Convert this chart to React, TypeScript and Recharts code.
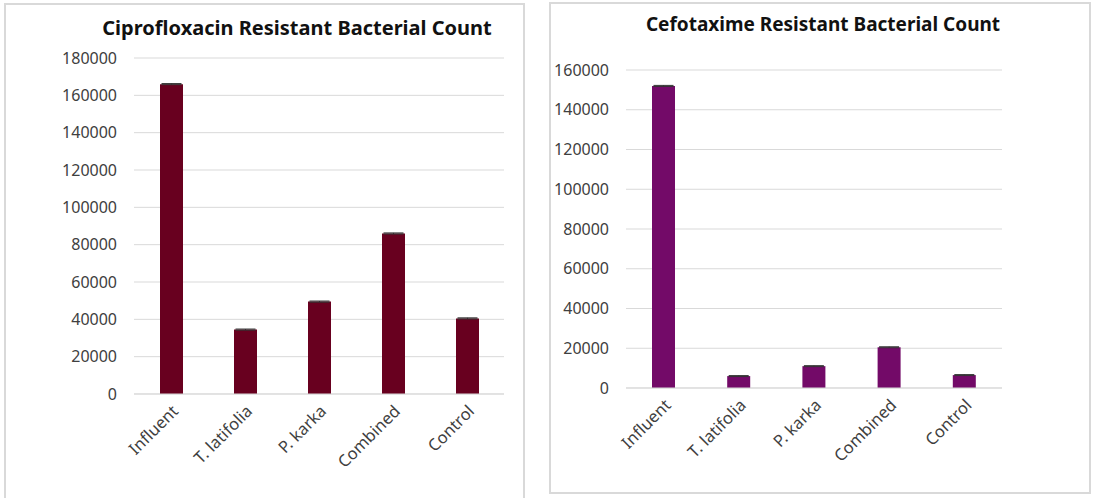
import { BarChart, Bar, XAxis, YAxis, CartesianGrid, ErrorBar } from 'recharts';

const categories = ['Influent', 'T. latifolia', 'P. karka', 'Combined', 'Control'];

const ciproValues = [166000, 34500, 49500, 86000, 40500];
const ciproErrors = [300, 300, 300, 300, 300];
const ciproTicks = [0, 20000, 40000, 60000, 80000, 100000, 120000, 140000, 160000, 180000];

const cefoValues = [152000, 6000, 11000, 20500, 6500];
const cefoErrors = [250, 250, 250, 250, 250];
const cefoTicks = [0, 20000, 40000, 60000, 80000, 100000, 120000, 140000, 160000];

const FONT = '"Noto Sans", sans-serif';

const toRows = (values: number[], errors: number[]) =>
  categories.map((name, i) => ({ name, value: values[i], err: errors[i] }));

type PanelParam = {
  title: string;
  titleSize: number;
  color: string;
  values: number[];
  errors: number[];
  ticks: number[];
  width: number;
  height: number;
  margin: { top: number; right: number; left: number; bottom: number };
  yWidth: number;
  titleX: number;
  titleY: number;
};

const renderPanel = (p: PanelParam) => (
  <div style={{ position: 'relative', width: p.width, height: p.height }}>
    <div
      style={{
        position: 'absolute',
        left: p.titleX - 250,
        width: 500,
        top: p.titleY,
        textAlign: 'center',
        fontFamily: FONT,
        fontWeight: 700,
        fontSize: p.titleSize,
        color: '#111',
        lineHeight: '24px',
      }}
    >
      {p.title}
    </div>
    <BarChart
      width={p.width}
      height={p.height}
      data={toRows(p.values, p.errors)}
      margin={p.margin}
      barCategoryGap={0}
    >
      <CartesianGrid vertical={false} stroke="#D9D9D9" strokeWidth={1} />
      <XAxis
        dataKey="name"
        axisLine={{ stroke: '#D9D9D9' }}
        tickLine={false}
        interval={0}
        height={100}
        tickSize={0}
        tickMargin={10}
        angle={-45}
        textAnchor="end"
        tick={{ fill: '#404040', fontSize: 16.5, fontFamily: FONT }}
      />
      <YAxis
        domain={[0, p.ticks[p.ticks.length - 1]]}
        ticks={p.ticks}
        axisLine={false}
        tickLine={false}
        tickSize={0}
        tickMargin={17}
        width={p.yWidth}
        interval={0}
        tick={{ fill: '#404040', fontSize: 16, fontFamily: FONT }}
      />
      <Bar dataKey="value" fill={p.color} barSize={23} isAnimationActive={false}>
        <ErrorBar dataKey="err" width={10} stroke="#333" strokeWidth={1} />
      </Bar>
    </BarChart>
  </div>
);

const App = () => (
  <div
    style={{
      position: 'fixed',
      left: 0,
      top: 0,
      width: 1094,
      height: 498,
      background: '#fff',
      overflow: 'hidden',
    }}
  >
    <div
      style={{
        position: 'absolute',
        left: 4,
        top: 3,
        width: 517,
        height: 520,
        border: '2px solid #D9D9D9',
      }}
    />
    <div
      style={{
        position: 'absolute',
        left: 549,
        top: 2,
        width: 538,
        height: 488,
        border: '2px solid #D9D9D9',
      }}
    />
    <div style={{ position: 'absolute', left: 4, top: 4 }}>
      {renderPanel({
        title: 'Ciprofloxacin Resistant Bacterial Count',
        titleSize: 20,
        color: '#68001F',
        values: ciproValues,
        errors: ciproErrors,
        ticks: ciproTicks,
        width: 520,
        height: 494,
        margin: { top: 54, right: 20, left: 0, bottom: 4 },
        yWidth: 130,
        titleX: 293,
        titleY: 12,
      })}
    </div>
    <div style={{ position: 'absolute', left: 549, top: 2 }}>
      {renderPanel({
        title: 'Cefotaxime Resistant Bacterial Count',
        titleSize: 19,
        color: '#730A68',
        values: cefoValues,
        errors: cefoErrors,
        ticks: cefoTicks,
        width: 540,
        height: 490,
        margin: { top: 68, right: 87, left: 0, bottom: 4 },
        yWidth: 77,
        titleX: 274,
        titleY: 10,
      })}
    </div>
  </div>
);

export default App;
